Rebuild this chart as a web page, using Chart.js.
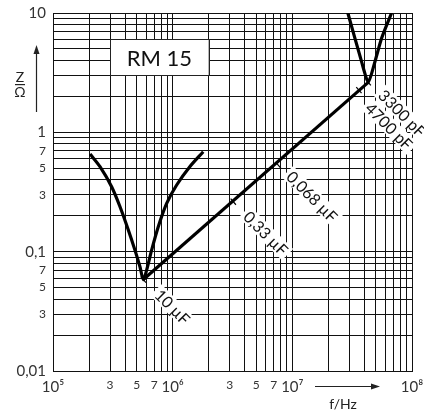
<!DOCTYPE html>
<html>
<head>
<meta charset="utf-8">
<script src="https://cdn.jsdelivr.net/npm/chart.js@4.4.1/dist/chart.umd.min.js"></script>
<style>
  html, body { margin: 0; padding: 0; background: #fff; }
  #wrap { width: 424px; height: 417px; }
</style>
</head>
<body>
<div id="wrap"><canvas id="impedance" width="424" height="417"></canvas></div>
<script>
// values (f in Hz, Z in ohm)
const leftVFreq = [2.04e5, 2.47e5, 3.09e5, 3.63e5, 4.26e5, 4.84e5, 5.33e5, 5.69e5, 6.06e5, 6.67e5, 7.58e5, 8.91e5, 1.08e6, 1.39e6, 1.80e6];
const leftVZ    = [0.658, 0.515, 0.350, 0.238, 0.152, 0.103, 0.0747, 0.0584, 0.0701, 0.103, 0.162, 0.254, 0.362, 0.515, 0.688];

const rightVFreq = [2.91e7, 3.79e7, 4.31e7, 4.90e7, 5.57e7, 6.75e7];
const rightVZ    = [10, 3.91, 2.62, 3.91, 6.14, 10];

const resonanceFreq = [5.69e5, 4.31e7];
const resonanceZ    = [0.0584, 2.62];

const markFreq = [5.69e5, 3.21e6, 7.62e6, 3.60e7, 4.31e7];
const markZ    = [0.0584, 0.262, 0.532, 2.26, 2.62];

const capLabels = ["10 µF", "0,33 µF", "0,068 µF", "3300 pF", "4700 pF"];
const capLabelFreq = [1.0e6, 6.02e6, 1.47e7, 8.3e7, 6.45e7];
const capLabelZ    = [0.0345, 0.143, 0.290, 1.45, 1.13];

const xTickValues = [1e5, 3e5, 5e5, 7e5, 1e6, 3e6, 5e6, 7e6, 1e7, 1e8];
const xTickTexts  = ["10⁵", "3", "5", "7", "10⁶", "3", "5", "7", "10⁷", "10⁸"];
const yTickValues = [10, 1, 0.7, 0.5, 0.3, 0.1, 0.07, 0.05, 0.03, 0.01];
const yTickTexts  = ["10", "1", "7", "5", "3", "0,1", "7", "5", "3", "0,01"];

const FONT = "Lato, 'Open Sans', sans-serif";

function logGrid(lo, hi) {
    const out = [];
    for (let e = lo; e < hi; e++) {
        for (let m = 1; m <= 9; m++) out.push(Number((m * Math.pow(10, e)).toPrecision(6)));
    }
    out.push(Math.pow(10, hi));
    return out;
}

function findText(values, texts, v) {
    const i = values.findIndex(t => Math.abs(Math.log10(t) - Math.log10(v)) < 1e-6);
    return i < 0 ? "" : texts[i];
}

function isDecade(v) {
    return Math.abs(Math.log10(v) - Math.round(Math.log10(v))) < 1e-6;
}

function pts(xs, ys) {
    return xs.map((x, i) => ({ x: x, y: ys[i] }));
}

const decorations = {
    id: "decorations",
    beforeDatasetsDraw(chart) {
        const { ctx, scales: { x, y } } = chart;
        // RM 15 box
        const l = x.getPixelForValue(3e5), r = x.getPixelForValue(2e6);
        const t = y.getPixelForValue(6), b = y.getPixelForValue(3);
        ctx.save();
        ctx.fillStyle = "#fff";
        ctx.fillRect(l, t, r - l, b - t);
        ctx.strokeStyle = "#222";
        ctx.lineWidth = 1;
        ctx.strokeRect(Math.round(l) + 0.5, Math.round(t) + 0.5, Math.round(r - l), Math.round(b - t));
        ctx.fillStyle = "#111";
        ctx.font = "22px " + FONT;
        ctx.textAlign = "center";
        ctx.textBaseline = "middle";
        ctx.fillText("RM 15", (l + r) / 2, (t + b) / 2 + 1);
        ctx.restore();
    },
    afterDatasetsDraw(chart) {
        const { ctx, scales: { x, y } } = chart;
        ctx.save();
        ctx.font = "16px " + FONT;
        ctx.textAlign = "center";
        ctx.textBaseline = "middle";
        capLabels.forEach((txt, i) => {
            const px = x.getPixelForValue(capLabelFreq[i]);
            const py = y.getPixelForValue(capLabelZ[i]);
            const w = ctx.measureText(txt).width;
            ctx.save();
            ctx.translate(px, py);
            ctx.rotate(Math.PI / 4);
            ctx.fillStyle = "#fff";
            ctx.fillRect(-w / 2 - 3, -8, w + 6, 16);
            ctx.fillStyle = "#111";
            ctx.fillText(txt, 0, 1);
            ctx.restore();
        });
        ctx.restore();
    },
    afterDraw(chart) {
        const ctx = chart.ctx;
        ctx.save();
        ctx.strokeStyle = "#222";
        ctx.fillStyle = "#222";
        ctx.lineWidth = 1.2;
        // y arrow
        ctx.beginPath();
        ctx.moveTo(36.5, 112);
        ctx.lineTo(36.5, 52);
        ctx.stroke();
        ctx.beginPath();
        ctx.moveTo(36.5, 45);
        ctx.lineTo(33.5, 54);
        ctx.lineTo(39.5, 54);
        ctx.closePath();
        ctx.fill();
        // x arrow
        ctx.beginPath();
        ctx.moveTo(315, 386.5);
        ctx.lineTo(372, 386.5);
        ctx.stroke();
        ctx.beginPath();
        ctx.moveTo(380, 386.5);
        ctx.lineTo(371, 383.5);
        ctx.lineTo(371, 389.5);
        ctx.closePath();
        ctx.fill();
        // axis names
        ctx.fillStyle = "#222";
        ctx.font = "14px " + FONT;
        ctx.textAlign = "center";
        ctx.textBaseline = "alphabetic";
        ctx.fillText("Z", 20, 82);
        ctx.fillText("Ω", 20, 97);
        ctx.fillRect(15, 84, 10, 1.2);
        ctx.textBaseline = "middle";
        ctx.fillText("f/Hz", 343, 404);
        ctx.restore();
    }
};

const ctx = document.getElementById("impedance").getContext("2d");
new Chart(ctx, {
    type: "scatter",
    data: {
        datasets: [
            { data: pts(leftVFreq, leftVZ), showLine: true, tension: 0.3, borderColor: "#000", borderWidth: 3.2, pointRadius: 0 },
            { data: pts(rightVFreq, rightVZ), showLine: true, tension: 0.2, borderColor: "#000", borderWidth: 3.2, pointRadius: 0 },
            { data: pts(resonanceFreq, resonanceZ), showLine: true, borderColor: "#000", borderWidth: 3.2, pointRadius: 0 },
            { data: pts(markFreq, markZ), showLine: false, pointStyle: "line", rotation: 49, pointRadius: 4, borderColor: "#000", borderWidth: 1.2 }
        ]
    },
    options: {
        responsive: false,
        animation: false,
        layout: { padding: { top: 13, right: 12, left: 0, bottom: 0 } },
        plugins: { legend: { display: false }, tooltip: { enabled: false } },
        scales: {
            x: {
                type: "logarithmic",
                min: 1e5,
                max: 1e8,
                afterBuildTicks: s => { s.ticks = logGrid(5, 8).map(v => ({ value: v })); },
                afterFit: s => { s.height = 46; s.paddingLeft = 0; s.paddingRight = 0; },
                grid: { color: "#111", lineWidth: 1, drawTicks: false },
                border: { color: "#111", width: 1 },
                ticks: {
                    autoSkip: false,
                    maxRotation: 0,
                    padding: 7,
                    color: "#333",
                    font: c => ({ family: FONT, size: c.tick && isDecade(c.tick.value) ? 15 : 12 }),
                    callback: v => findText(xTickValues, xTickTexts, v)
                }
            },
            y: {
                type: "logarithmic",
                min: 0.01,
                max: 10,
                afterBuildTicks: s => { s.ticks = logGrid(-2, 1).map(v => ({ value: v })); },
                afterFit: s => { s.width = 53; s.paddingTop = 0; s.paddingBottom = 0; },
                grid: { color: "#111", lineWidth: 1, drawTicks: false },
                border: { color: "#111", width: 1 },
                ticks: {
                    autoSkip: false,
                    padding: 7,
                    color: "#333",
                    font: c => ({ family: FONT, size: c.tick && isDecade(c.tick.value) ? 15 : 12 }),
                    callback: v => findText(yTickValues, yTickTexts, v)
                }
            }
        }
    },
    plugins: [decorations]
});
</script>
</body>
</html>
